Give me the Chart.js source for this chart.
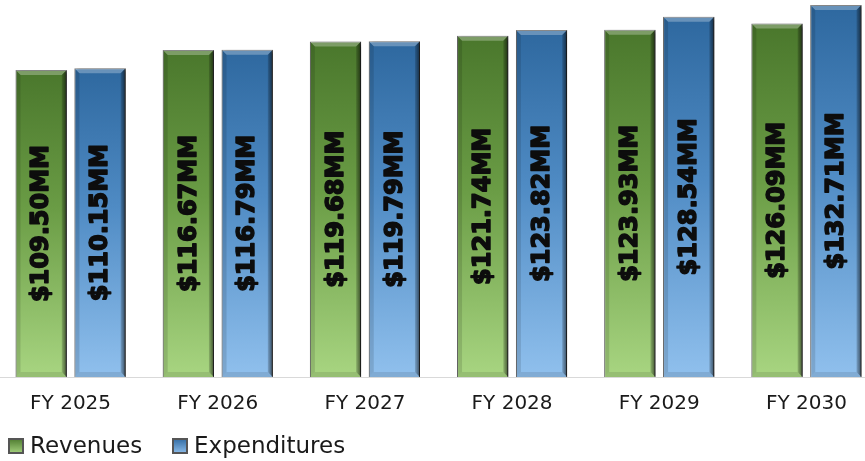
<!DOCTYPE html>
<html>
<head>
<meta charset="utf-8">
<title>Revenues vs Expenditures</title>
<script src="https://cdn.jsdelivr.net/npm/chart.js@4/dist/chart.umd.min.js"></script>
<style>
  html, body { margin: 0; padding: 0; background: #fff; overflow: hidden; }
  #wrap { position: absolute; left: -3px; top: 0; width: 883px; height: 461px; }
</style>
</head>
<body>
<div id="wrap"><canvas id="myChart"></canvas></div>
<script>
const categories = ["FY 2025", "FY 2026", "FY 2027", "FY 2028", "FY 2029", "FY 2030"];
const revenues = [109.50, 116.67, 119.68, 121.74, 123.93, 126.09];
const expenditures = [110.15, 116.79, 119.79, 123.82, 128.54, 132.71];
const seriesNames = ["Revenues", "Expenditures"];

const greenStops = ["#4a772c", "#6a9c45", "#a8d581"];
const blueStops = ["#2e689f", "#4f8bc4", "#90c0ed"];

function barGradient(stops) {
  return (ctx) => {
    const { chart } = ctx;
    const { chartArea, scales } = chart;
    if (!chartArea || !scales.y || ctx.raw == null) return stops[1];
    const top = scales.y.getPixelForValue(ctx.raw);
    const bottom = scales.y.getPixelForValue(0);
    const g = chart.ctx.createLinearGradient(0, top, 0, bottom);
    g.addColorStop(0, stops[0]);
    g.addColorStop(0.45, stops[1]);
    g.addColorStop(1, stops[2]);
    return g;
  };
}

function formatMoney(v) {
  return `$${v.toFixed(2)}MM`;
}

// sombra + bisel sobre las barras que dibuja chart.js
const bevelPlugin = {
  id: "bevel",
  beforeDatasetsDraw(chart) {
    const c = chart.ctx;
    c.save();
    c.shadowColor = "rgba(0,0,0,0.55)";
    c.shadowOffsetX = 3;
    c.shadowOffsetY = 1;
    c.shadowBlur = 3;
  },
  afterDatasetsDraw(chart) {
    const c = chart.ctx;
    c.restore();
    chart.data.datasets.forEach((ds, di) => {
      const meta = chart.getDatasetMeta(di);
      meta.data.forEach((bar, i) => {
        const x0 = bar.x - bar.width / 2;
        const x1 = bar.x + bar.width / 2;
        const yt = bar.y;
        const yb = bar.base;
        const b = 5;
        c.save();
        // arriba
        c.beginPath();
        c.moveTo(x0, yt); c.lineTo(x1, yt); c.lineTo(x1 - b, yt + b); c.lineTo(x0 + b, yt + b);
        c.closePath();
        c.fillStyle = "rgba(255,255,255,0.28)";
        c.fill();
        // izquierda
        c.beginPath();
        c.moveTo(x0, yt); c.lineTo(x0 + b, yt + b); c.lineTo(x0 + b, yb - b); c.lineTo(x0, yb);
        c.closePath();
        c.fillStyle = "rgba(0,0,0,0.12)";
        c.fill();
        // derecha
        const rg = c.createLinearGradient(x1 - b, 0, x1, 0);
        rg.addColorStop(0, "rgba(0,0,0,0.15)");
        rg.addColorStop(1, "rgba(0,0,0,0.6)");
        c.beginPath();
        c.moveTo(x1, yt); c.lineTo(x1, yb); c.lineTo(x1 - b, yb - b); c.lineTo(x1 - b, yt + b);
        c.closePath();
        c.fillStyle = rg;
        c.fill();
        // abajo
        c.beginPath();
        c.moveTo(x0, yb); c.lineTo(x1, yb); c.lineTo(x1 - b, yb - b); c.lineTo(x0 + b, yb - b);
        c.closePath();
        c.fillStyle = "rgba(0,0,0,0.1)";
        c.fill();
        // etiqueta vertical
        c.translate(bar.x, (yt + yb) / 2);
        c.rotate(-Math.PI / 2);
        c.font = "bold 24px 'DejaVu Sans', Verdana, sans-serif";
        c.fillStyle = "#0d0d0d";
        c.strokeStyle = "#0d0d0d";
        c.lineWidth = 1.5;
        c.lineJoin = "round";
        c.textAlign = "center";
        c.textBaseline = "middle";
        c.fillText(formatMoney(ds.data[i]), 0, 1);
        c.strokeText(formatMoney(ds.data[i]), 0, 1);
        c.restore();
      });
    });
  },
};

// leyenda abajo a la izquierda con cajitas biseladas
const legendPlugin = {
  id: "miLeyenda",
  afterDraw(chart) {
    const c = chart.ctx;
    const xs = [11, 175];
    const y = 446;
    c.save();
    c.font = "23px 'DejaVu Sans', Verdana, sans-serif";
    c.textBaseline = "middle";
    chart.data.datasets.forEach((ds, i) => {
      const stops = ds.stops;
      const x = xs[i];
      const g = c.createLinearGradient(0, y - 8, 0, y + 8);
      g.addColorStop(0, stops[0]);
      g.addColorStop(1, stops[2]);
      c.fillStyle = "#555";
      c.fillRect(x, y - 8, 16, 16);
      c.fillStyle = g;
      c.fillRect(x + 2, y - 6, 12, 12);
      c.fillStyle = "#1a1a1a";
      c.fillText(ds.label, x + 22, y + 1);
    });
    c.restore();
  },
};

const canvas = document.getElementById("myChart");
const myChart = new Chart(canvas, {
  type: "bar",
  data: {
    labels: categories,
    datasets: [
      {
        label: seriesNames[0],
        data: revenues,
        stops: greenStops,
        backgroundColor: barGradient(greenStops),
        borderColor: "rgba(70,70,70,0.85)",
        borderWidth: 1,
      },
      {
        label: seriesNames[1],
        data: expenditures,
        stops: blueStops,
        backgroundColor: barGradient(blueStops),
        borderColor: "rgba(70,70,70,0.85)",
        borderWidth: 1,
      },
    ],
  },
  options: {
    responsive: true,
    maintainAspectRatio: false,
    animation: false,
    categoryPercentage: 0.8,
    barPercentage: 0.87,
    layout: { padding: { top: 0, bottom: 30, left: 0, right: 0 } },
    plugins: {
      legend: { display: false },
      tooltip: { enabled: false },
    },
    scales: {
      x: {
        grid: { display: false, drawTicks: false },
        border: { display: true, color: "#d9d9d9", width: 1 },
        ticks: {
          color: "#1a1a1a",
          padding: 15,
          font: { family: "'DejaVu Sans', Verdana, sans-serif", size: 20 },
        },
      },
      y: {
        display: false,
        min: 0,
        max: 134.5,
      },
    },
  },
  plugins: [bevelPlugin, legendPlugin],
});
</script>
</body>
</html>
